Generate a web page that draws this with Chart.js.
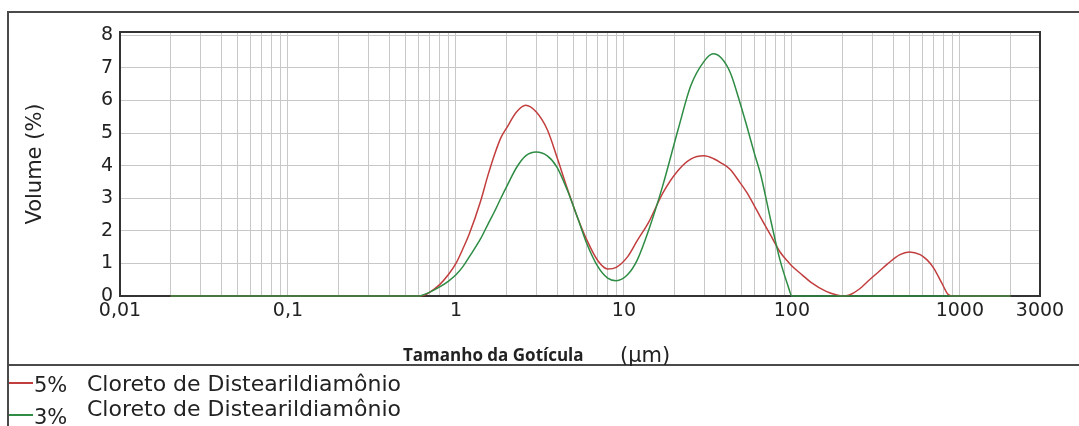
<!DOCTYPE html>
<html>
<head>
<meta charset="utf-8">
<script src="https://cdn.jsdelivr.net/npm/chart.js@4.4.0/dist/chart.umd.min.js"></script>
<style>
  body { margin: 0; background: #fff; width: 1079px; height: 426px; overflow: hidden; position: relative;
         font-family: 'DejaVu Sans', sans-serif; color: #222; }
  #chart { position: absolute; left: 0; top: 0; }
  .rule { position: absolute; background: #4a4a4a; }
  .txt { position: absolute; white-space: nowrap; }
  .mark { position: absolute; height: 2px; }
</style>
</head>
<body>
<canvas id="chart" width="1079" height="364"></canvas>

<div class="rule" style="left:7px; top:11px; width:1072px; height:2px;"></div>
<div class="rule" style="left:7px; top:11px; width:2px; height:415px;"></div>
<div class="rule" style="left:7px; top:364px; width:1072px; height:2px;"></div>

<div class="txt" id="xtitle" style="left:403px; top:345px; font: bold 17px 'Open Sans'; line-height:20px;">Tamanho da Gotícula</div>
<div class="txt" id="xunit" style="left:620px; top:343px; font-size:21px; line-height:24px;">(µm)</div>

<div id="legend"></div>

<script>
// particle size (µm) and volume (%)
const sizes = [0.02, 0.6, 0.65, 0.7, 0.8, 0.9, 1.0, 1.1, 1.2, 1.4,
               1.55, 1.7, 1.85, 2.0, 2.3, 2.6, 3.0, 3.5, 4.0, 4.6,
               5.3, 6.0, 7.0, 8.0, 9.0, 10.5, 12, 14, 17, 21,
               25, 30, 34, 38, 43, 48, 54, 60, 65, 75,
               85, 95, 100, 115, 130, 160, 185, 200, 220, 250,
               290, 330, 370, 440, 500, 580, 640, 700, 780, 850,
               900, 2000];
const vol5 = [0, 0, 0.03, 0.12, 0.35, 0.65, 1.0, 1.45, 1.9, 2.9,
              3.7, 4.35, 4.85, 5.15, 5.65, 5.85, 5.65, 5.1, 4.25, 3.3,
              2.4, 1.73, 1.08, 0.83, 0.88, 1.2, 1.7, 2.25, 3.15, 3.85,
              4.2, 4.3, 4.22, 4.08, 3.88, 3.55, 3.17, 2.75, 2.42, 1.85,
              1.35, 1.05, 0.92, 0.65, 0.42, 0.14, 0.03, 0, 0.03, 0.2,
              0.5, 0.75, 0.98, 1.27, 1.35, 1.27, 1.1, 0.85, 0.4, 0.05,
              0, 0];
const vol3 = [0, 0, 0.05, 0.12, 0.28, 0.45, 0.65, 0.9, 1.2, 1.75,
              2.2, 2.6, 3.0, 3.35, 3.95, 4.3, 4.42, 4.3, 3.95, 3.25,
              2.4, 1.62, 0.9, 0.55, 0.47, 0.65, 1.1, 2.0, 3.37, 5.1,
              6.45, 7.2, 7.43, 7.3, 6.85, 6.1, 5.2, 4.35, 3.75, 2.3,
              1.1, 0.3, 0, 0, 0, 0, 0, 0, 0, 0,
              0, 0, 0, 0, 0, 0, 0, 0, 0, 0,
              0, 0];

const xTickValues = [0.01, 0.1, 1, 10, 100, 1000, 3000];
const xTickLabels = ['0,01', '0,1', '1', '10', '100', '1000', '3000'];
const yTickValues = [0, 1, 2, 3, 4, 5, 6, 7, 8];

const seriesNames = ['5%', '3%'];
const seriesText = ['Cloreto de Distearildiamônio', 'Cloreto de Distearildiamônio'];
const seriesColors = ['#c23e3e', '#2e8c44'];

// log grid: 1..9 in every decade
const xGrid = [];
for (let d = 0.01; d < 3000; d *= 10) {
  for (let m = 1; m < 10; m++) {
    const v = +(m * d).toPrecision(3);
    if (v <= 3000) xGrid.push(v);
  }
}

Chart.defaults.font.family = "'DejaVu Sans', sans-serif";
Chart.defaults.color = '#222';

const plotFrame = {
  id: 'plotFrame',
  beforeDatasetsDraw(chart) {
    const { ctx, chartArea: a } = chart;
    ctx.save();
    ctx.strokeStyle = '#333';
    ctx.lineWidth = 2;
    ctx.strokeRect(a.left, a.top, a.right - a.left, a.bottom - a.top);
    ctx.restore();
  }
};

const ctx = document.getElementById('chart').getContext('2d');
new Chart(ctx, {
  type: 'line',
  data: {
    datasets: [
      {
        label: seriesNames[0],
        data: sizes.map((x, i) => ({ x: x, y: vol5[i] })),
        borderColor: seriesColors[0],
        order: 1
      },
      {
        label: seriesNames[1],
        data: sizes.map((x, i) => ({ x: x, y: vol3[i] })),
        borderColor: seriesColors[1],
        order: 0
      }
    ]
  },
  options: {
    responsive: false,
    animation: false,
    layout: { padding: { top: 32, right: 39, left: 0, bottom: 0 } },
    elements: {
      point: { radius: 0 },
      line: { borderWidth: 1.5, cubicInterpolationMode: 'monotone', fill: false }
    },
    datasets: { line: { clip: 6 } },
    plugins: {
      legend: { display: false },
      tooltip: { enabled: false }
    },
    scales: {
      x: {
        type: 'logarithmic',
        min: 0.01,
        max: 3000,
        afterBuildTicks: (scale) => { scale.ticks = xGrid.map(v => ({ value: v })); },
        afterFit: (scale) => { scale.height = 68; },
        grid: { color: '#c8c8c8', lineWidth: 1, drawTicks: false },
        border: { display: false },
        ticks: {
          autoSkip: false,
          maxRotation: 0,
          padding: 4,
          font: { size: 19 },
          callback: (v) => {
            const i = xTickValues.indexOf(v);
            return i >= 0 ? xTickLabels[i] : '';
          }
        }
      },
      y: {
        min: 0,
        max: 8.1,
        afterBuildTicks: (scale) => { scale.ticks = yTickValues.map(v => ({ value: v })); },
        afterFit: (scale) => { scale.width = 120; },
        grid: { color: '#c8c8c8', lineWidth: 1, drawTicks: false },
        border: { display: false },
        ticks: { padding: 7, font: { size: 19 } },
        title: {
          display: true,
          text: 'Volume (%)',
          font: { size: 21 },
          padding: { top: 23, bottom: 0 }
        }
      }
    }
  },
  plugins: [plotFrame]
});

// legend below the separator
const legend = document.getElementById('legend');
const rowText = [384, 409];
const rowMark = [383, 415];
seriesNames.forEach(function (name, i) {
  const mark = document.createElement('div');
  mark.className = 'mark';
  mark.style.cssText = 'left:9px; width:24px; top:' + (rowMark[i] - 1) + 'px; background:' + seriesColors[i] + ';';
  legend.appendChild(mark);

  const pct = document.createElement('div');
  pct.className = 'txt';
  pct.style.cssText = 'left:34px; font-size:21px; line-height:24px; top:' + (rowMark[i] + 2 - 12) + 'px;';
  pct.textContent = name;
  legend.appendChild(pct);

  const label = document.createElement('div');
  label.className = 'txt';
  label.style.cssText = 'left:87px; font-size:22px; line-height:24px; top:' + (rowText[i] - 12) + 'px;';
  label.textContent = seriesText[i];
  legend.appendChild(label);
});
</script>
</body>
</html>
